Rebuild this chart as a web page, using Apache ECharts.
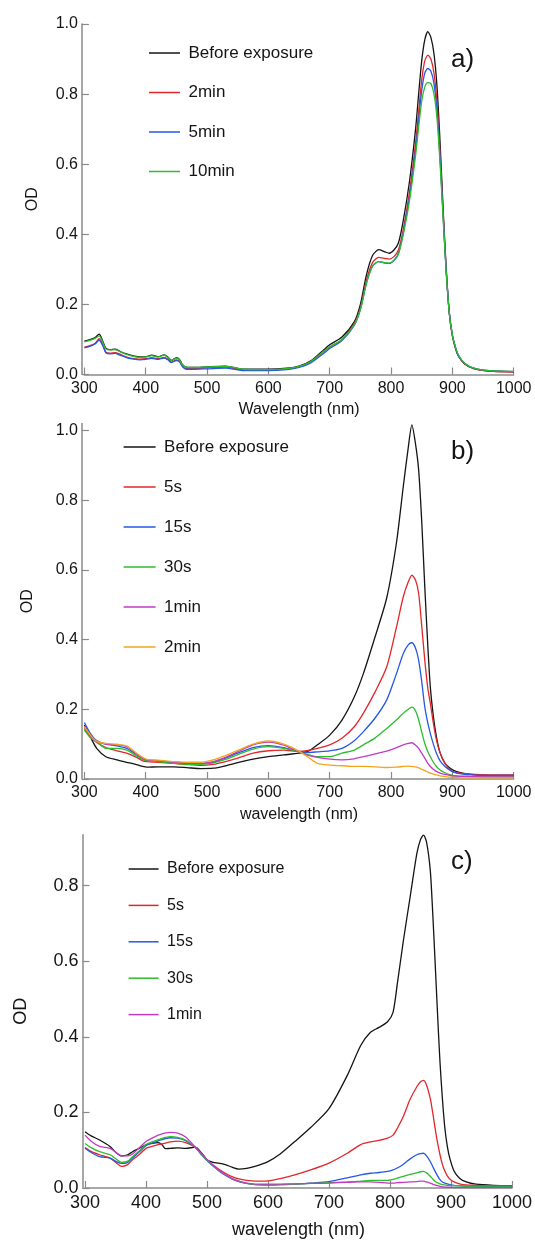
<!DOCTYPE html>
<html>
<head>
<meta charset="utf-8">
<script src="https://cdn.jsdelivr.net/npm/echarts@6/dist/echarts.min.js"></script>
<style>html,body{margin:0;padding:0;background:#fff}#main{width:535px;height:1240px}</style>
</head>
<body>
<div id="main"></div>
<script>
// ---- panel a) ----
var wlA = [300,310,318,324,330,335,342,350,358,366, 375,390,400,410,420,430,436,442,450,455,
  460,466,480,500,530,560,600,630,650,670, 690,700,720,740,750,760,770,780,790,797,
  805,812,820,830,840,845,850,855,860,865, 870,875,880,885,890,895,900,905,910,920, 935,960,1000];
var aBefore = [0.095,0.1,0.106,0.115,0.095,0.075,0.071,0.072,0.066,0.06, 0.055,0.05,0.051,0.055,0.051,0.056,0.05,0.04,0.048,0.043,
  0.028,0.021,0.02,0.022,0.024,0.015,0.015,0.018,0.024,0.04, 0.07,0.085,0.107,0.15,0.2,0.285,0.34,0.356,0.35,0.346,
  0.356,0.375,0.44,0.55,0.70,0.80,0.895,0.955,0.978,0.962, 0.915,0.82,0.66,0.47,0.30,0.175,0.11,0.075,0.052,0.03, 0.017,0.01,0.008];
var a2min = [0.078,0.083,0.09,0.102,0.085,0.064,0.061,0.062,0.058,0.052, 0.047,0.044,0.045,0.048,0.045,0.049,0.044,0.035,0.042,0.038,
  0.024,0.017,0.017,0.019,0.021,0.013,0.013,0.016,0.022,0.037, 0.065,0.078,0.1,0.145,0.19,0.27,0.32,0.334,0.331,0.329,
  0.337,0.355,0.415,0.52,0.66,0.75,0.84,0.895,0.911,0.9, 0.86,0.775,0.63,0.455,0.295,0.175,0.112,0.077,0.053,0.031, 0.017,0.01,0.007];
var a5min = [0.076,0.081,0.088,0.098,0.082,0.062,0.059,0.06,0.055,0.05, 0.045,0.042,0.043,0.046,0.043,0.047,0.042,0.034,0.04,0.036,
  0.022,0.015,0.015,0.016,0.018,0.011,0.011,0.014,0.02,0.034, 0.06,0.074,0.097,0.14,0.185,0.262,0.31,0.322,0.318,0.317,
  0.326,0.345,0.405,0.505,0.64,0.725,0.81,0.86,0.873,0.865, 0.83,0.75,0.615,0.45,0.295,0.177,0.113,0.078,0.054,0.032, 0.018,0.011,0.008];
var a10min = [0.093,0.098,0.104,0.11,0.092,0.073,0.07,0.071,0.065,0.059, 0.054,0.049,0.05,0.054,0.05,0.055,0.049,0.04,0.047,0.042,
  0.027,0.021,0.02,0.022,0.023,0.015,0.014,0.017,0.023,0.038, 0.066,0.079,0.1,0.142,0.185,0.26,0.31,0.322,0.319,0.318,
  0.326,0.343,0.4,0.495,0.625,0.705,0.78,0.82,0.833,0.83, 0.8,0.73,0.6,0.445,0.29,0.175,0.113,0.078,0.055,0.032, 0.018,0.011,0.009];

// ---- panel b) ----
var wlB = [300,310,320,335,353,369,385,395,402,420, 446,470,490,510,530,550,575,600,625,650,
  665,680,700,720,740,755,774,793,809,820, 828,834,840,845,850,855,860,864,869,874, 880,888,897,907,930,960,1000];
var bBefore = [0.155,0.12,0.088,0.064,0.055,0.048,0.041,0.036,0.034,0.035, 0.035,0.032,0.03,0.031,0.038,0.047,0.057,0.064,0.069,0.074,
  0.08,0.098,0.126,0.169,0.235,0.303,0.408,0.52,0.68,0.84, 0.95,1.016,0.96,0.887,0.74,0.552,0.38,0.265,0.18,0.121, 0.075,0.045,0.03,0.021,0.013,0.01,0.01];
var b5s = [0.145,0.12,0.105,0.09,0.081,0.074,0.062,0.052,0.05,0.048, 0.045,0.041,0.039,0.042,0.05,0.06,0.074,0.081,0.083,0.079,
  0.082,0.088,0.098,0.117,0.15,0.189,0.25,0.322,0.437,0.523, 0.565,0.585,0.57,0.533,0.44,0.341,0.26,0.218,0.16,0.112, 0.075,0.045,0.026,0.018,0.014,0.012,0.012];
var b15s = [0.162,0.13,0.11,0.1,0.095,0.088,0.07,0.058,0.054,0.052, 0.048,0.045,0.044,0.048,0.06,0.074,0.09,0.096,0.09,0.079,
  0.076,0.078,0.081,0.088,0.11,0.136,0.175,0.227,0.303,0.36, 0.385,0.391,0.375,0.341,0.28,0.207,0.16,0.131,0.1,0.074, 0.052,0.036,0.024,0.017,0.012,0.01,0.01];
var b30s = [0.14,0.118,0.107,0.088,0.088,0.083,0.066,0.056,0.053,0.05, 0.045,0.042,0.042,0.046,0.056,0.07,0.086,0.093,0.088,0.078,
  0.07,0.064,0.064,0.074,0.083,0.098,0.118,0.145,0.17,0.189, 0.2,0.206,0.195,0.17,0.135,0.102,0.078,0.064,0.048,0.036, 0.026,0.018,0.012,0.009,0.007,0.006,0.006];
var b1min = [0.15,0.125,0.108,0.1,0.098,0.093,0.072,0.06,0.055,0.053, 0.048,0.046,0.045,0.05,0.062,0.078,0.098,0.106,0.097,0.078,
  0.068,0.062,0.057,0.055,0.058,0.064,0.072,0.08,0.09,0.098, 0.102,0.104,0.097,0.088,0.074,0.06,0.045,0.036,0.028,0.022, 0.017,0.013,0.01,0.008,0.007,0.006,0.006];
var b2min = [0.15,0.125,0.108,0.102,0.1,0.095,0.074,0.062,0.056,0.054, 0.05,0.048,0.048,0.055,0.067,0.082,0.1,0.109,0.1,0.08,
  0.062,0.045,0.04,0.038,0.036,0.036,0.035,0.033,0.034,0.036, 0.037,0.036,0.035,0.032,0.028,0.024,0.02,0.017,0.014,0.012, 0.009,0.007,0.005,0.004,0.003,0.003,0.003];

// ---- panel c) ----
var wlC = [300,310,324,341,350,360,370,378,390,400, 410,420,426,432,440,452,465,481,490,500,
  510,519,530,541,552,565,580,600,620,644, 670,700,730,752,768,782,796,805,812,822,
  833,844,850,855,860,866,870,874,878,882, 886,890,894,898,905,914,925,941,970,1000];
var cBefore = [0.149,0.138,0.127,0.11,0.095,0.085,0.088,0.096,0.106,0.114, 0.118,0.12,0.115,0.104,0.105,0.106,0.105,0.108,0.095,0.075,
  0.068,0.066,0.062,0.055,0.05,0.052,0.058,0.07,0.09,0.123, 0.16,0.21,0.298,0.377,0.412,0.425,0.44,0.465,0.54,0.655,
  0.77,0.885,0.922,0.934,0.915,0.842,0.73,0.597,0.46,0.333, 0.235,0.158,0.11,0.079,0.045,0.026,0.016,0.01,0.007,0.006];
var c5s = [0.107,0.097,0.088,0.079,0.068,0.057,0.062,0.075,0.09,0.105, 0.11,0.115,0.117,0.119,0.122,0.124,0.12,0.108,0.093,0.074,
  0.061,0.05,0.039,0.03,0.024,0.02,0.018,0.019,0.025,0.035, 0.048,0.066,0.092,0.115,0.122,0.126,0.132,0.14,0.158,0.19,
  0.235,0.268,0.281,0.285,0.272,0.237,0.2,0.158,0.12,0.088, 0.062,0.045,0.032,0.024,0.016,0.011,0.008,0.007,0.005,0.005];
var c15s = [0.105,0.094,0.083,0.079,0.071,0.065,0.068,0.08,0.097,0.112, 0.119,0.125,0.128,0.131,0.133,0.132,0.125,0.107,0.09,0.073,
  0.058,0.046,0.034,0.024,0.017,0.012,0.009,0.008,0.009,0.01, 0.013,0.017,0.027,0.035,0.039,0.041,0.044,0.048,0.053,0.063,
  0.077,0.088,0.091,0.092,0.085,0.07,0.057,0.044,0.032,0.022, 0.016,0.013,0.011,0.009,0.007,0.006,0.005,0.005,0.004,0.004];
var c30s = [0.118,0.107,0.096,0.088,0.078,0.068,0.071,0.083,0.1,0.115, 0.122,0.128,0.131,0.134,0.136,0.134,0.127,0.107,0.09,0.074,
  0.059,0.047,0.035,0.025,0.018,0.012,0.009,0.008,0.009,0.01, 0.012,0.014,0.016,0.018,0.02,0.02,0.02,0.023,0.026,0.031,
  0.036,0.04,0.043,0.044,0.04,0.031,0.024,0.018,0.014,0.011, 0.009,0.008,0.007,0.007,0.006,0.006,0.005,0.005,0.005,0.005];
var c1min = [0.14,0.124,0.11,0.105,0.095,0.085,0.085,0.09,0.108,0.123, 0.132,0.14,0.143,0.146,0.147,0.145,0.135,0.108,0.092,0.075,
  0.06,0.048,0.036,0.025,0.018,0.013,0.01,0.01,0.01,0.011, 0.012,0.013,0.015,0.016,0.016,0.015,0.013,0.013,0.014,0.015,
  0.016,0.017,0.018,0.018,0.016,0.013,0.01,0.008,0.006,0.004, 0.003,0.002,0.002,0.002,0.001,0.001,0.001,0.001,0.001,0.001];

// ---- ticks ----
var xTicks = [300,400,500,600,700,800,900,1000];
var yTicksAB = [0,0.2,0.4,0.6,0.8,1.0];
var yTicksC = [0,0.2,0.4,0.6,0.8];

var FONT = '"Liberation Sans", Arial, sans-serif';
var AXIS = '#8a8a8a';
var TXT = '#151515';
var BLACK = '#141414', RED = '#e3262b', BLUE = '#2558e6', GREEN = '#2dbd2d', MAGENTA = '#c23ac4', ORANGE = '#f2a51c';

function pairs(xs, ys) {
    return xs.map(function (x, i) { return [x, ys[i]]; });
}

function xAxisFor(idx, name, fs, gap) {
    return {
        type: 'value', gridIndex: idx, min: 300, max: 1000, interval: 100, offset: 1,
        name: name, nameLocation: 'middle', nameGap: gap,
        nameTextStyle: {fontSize: fs, color: TXT, fontFamily: FONT},
        axisLine: {lineStyle: {color: AXIS, width: 1.5}},
        axisTick: {inside: true, length: 7, customValues: xTicks, lineStyle: {color: AXIS, width: 1.2}},
        axisLabel: {fontSize: fs, color: TXT, fontFamily: FONT, margin: 5, customValues: xTicks,
            formatter: function (v) { return String(v); }},
        splitLine: {show: false}
    };
}

function yAxisFor(idx, max, ticks, fs, gap) {
    return {
        type: 'value', gridIndex: idx, min: 0, max: max, offset: 2.5,
        name: 'OD', nameLocation: 'middle', nameGap: gap,
        nameTextStyle: {fontSize: fs, color: TXT, fontFamily: FONT},
        axisLine: {show: true, lineStyle: {color: AXIS, width: 1.5}},
        axisTick: {show: true, inside: true, length: 7, customValues: ticks, lineStyle: {color: AXIS, width: 1.2}},
        axisLabel: {fontSize: fs, color: TXT, fontFamily: FONT, margin: 4, customValues: ticks,
            formatter: function (v) { return v.toFixed(1); }},
        splitLine: {show: false}
    };
}

function line(name, idx, xs, ys, color) {
    return {
        type: 'line', name: name, xAxisIndex: idx, yAxisIndex: idx,
        data: pairs(xs, ys), showSymbol: false, smooth: 0.25, silent: true,
        lineStyle: {color: color, width: 1.3}, itemStyle: {color: color}
    };
}

function legendFor(left, top, iconW, gap, fs, names, colors) {
    return {
        orient: 'vertical', left: left, top: top, icon: 'rect', padding: 0,
        itemWidth: iconW, itemHeight: 1.5, itemGap: gap, selectedMode: false,
        textStyle: {fontSize: fs, color: TXT, fontFamily: FONT, lineHeight: 20, padding: [0, 0, 0, 3.5]},
        data: names.map(function (n, i) { return {name: n, itemStyle: {color: colors[i]}}; })
    };
}

var myChart = echarts.init(document.getElementById('main'), null, {renderer: 'canvas'});

var option = {
    animation: false,
    backgroundColor: '#ffffff',
    grid: [
        {left: 84.4, top: 24, width: 429.3, height: 350.5},
        {left: 84.4, top: 423.5, width: 429.3, height: 355.5},
        {left: 85, top: 834.7, width: 430, height: 355.3}
    ],
    xAxis: [
        xAxisFor(0, 'Wavelength (nm)', 16, 26),
        xAxisFor(1, 'wavelength (nm)', 16, 27),
        xAxisFor(2, 'wavelength (nm)', 18, 32)
    ],
    yAxis: [
        yAxisFor(0, 1.0, yTicksAB, 16, 41),
        yAxisFor(1, 1.02, yTicksAB, 16, 46),
        yAxisFor(2, 0.935, yTicksC, 18, 52)
    ],
    legend: [
        legendFor(149, 43, 31, 19.5, 17, ['Before exposure', '2min', '5min', '10min'], [BLACK, RED, BLUE, GREEN]),
        legendFor(123.6, 437, 32, 20, 17, ['Before exposure', '5s', '15s', '30s', '1min', '2min'], [BLACK, RED, BLUE, GREEN, MAGENTA, ORANGE]),
        legendFor(128.6, 859, 30, 16.4, 16, ['Before exposure', '5s', '15s', '30s', '1min'], [BLACK, RED, BLUE, GREEN, MAGENTA])
    ],
    graphic: [
        {type: 'text', left: 451, top: 47, style: {text: 'a)', fontSize: 26, fill: TXT, fontFamily: FONT}},
        {type: 'text', left: 451, top: 439, style: {text: 'b)', fontSize: 26, fill: TXT, fontFamily: FONT}},
        {type: 'text', left: 451, top: 849, style: {text: 'c)', fontSize: 26, fill: TXT, fontFamily: FONT}}
    ],
    series: [
        line('Before exposure', 0, wlA, aBefore, BLACK),
        line('2min', 0, wlA, a2min, RED),
        line('5min', 0, wlA, a5min, BLUE),
        line('10min', 0, wlA, a10min, GREEN),

        line('Before exposure', 1, wlB, bBefore, BLACK),
        line('5s', 1, wlB, b5s, RED),
        line('15s', 1, wlB, b15s, BLUE),
        line('30s', 1, wlB, b30s, GREEN),
        line('1min', 1, wlB, b1min, MAGENTA),
        line('2min', 1, wlB, b2min, ORANGE),

        line('Before exposure', 2, wlC, cBefore, BLACK),
        line('5s', 2, wlC, c5s, RED),
        line('15s', 2, wlC, c15s, BLUE),
        line('30s', 2, wlC, c30s, GREEN),
        line('1min', 2, wlC, c1min, MAGENTA)
    ]
};

myChart.setOption(option);
</script>
</body>
</html>
